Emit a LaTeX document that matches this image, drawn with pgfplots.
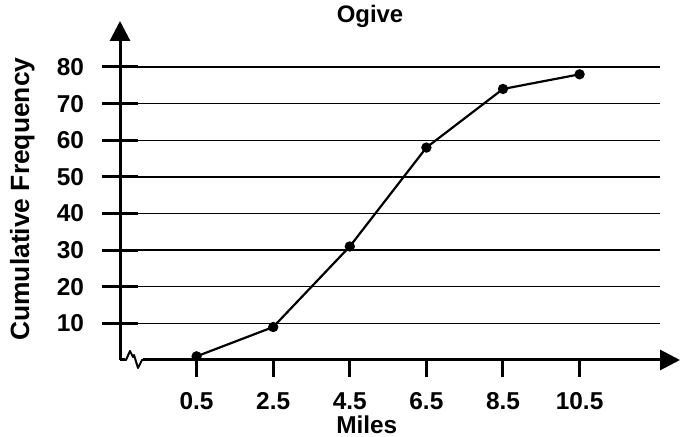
\documentclass[border=0pt]{standalone}
\usepackage{fontspec}
\setmainfont{Liberation Sans}
\usepackage{pgfplots}
\pgfplotsset{compat=1.18}
\usetikzlibrary{arrows.meta}
\begin{document}
\begin{tikzpicture}[x=1bp,y=1bp]
\path[use as bounding box] (0,0) rectangle (680,437);
\begin{axis}[
  at={(120bp,77bp)}, anchor=south west,
  scale only axis, width=540bp, height=293bp,
  xmin=-1.5, xmax=12.6, ymin=0, ymax=80,
  axis x line=bottom, axis y line=left,
  x axis line style={line width=3bp, shorten >=-20bp, -{Triangle[width=20bp,length=20bp]}},
  y axis line style={line width=3bp, shorten >=-46bp, -{Triangle[width=20bp,length=20bp]}},
  xtick={0.5,2.5,4.5,6.5,8.5,10.5},
  xticklabels={0.5,2.5,4.5,6.5,8.5,10.5},
  ytick={10,20,30,40,50,60,70,80},
  xtick align=outside, ytick align=center,
  major tick length=35bp,
  xtick style={line width=3bp, black, /pgfplots/major tick length=17bp},
  ytick style={line width=3bp, black},
  ymajorgrids, grid style={black, line width=1.3bp},
  /pgf/number format/assume math mode=true,
  ticklabel style={font=\fontsize{24.5}{26}\selectfont\bfseries},
  xticklabel style={yshift=6bp},
  every y tick label/.append style={black, xshift=-15bp},
  title={Ogive},
  title style={font=\fontsize{24}{26}\selectfont\bfseries, at={(axis description cs:0.463,1.154)}, anchor=center},
  xlabel={Miles},
  xlabel style={font=\fontsize{24.5}{26}\selectfont\bfseries, at={(axis description cs:0.457,-0.220)}, anchor=center},
  ylabel={Cumulative Frequency},
  ylabel style={font=\fontsize{26.5}{28}\selectfont\bfseries, at={(axis description cs:-0.181,0.549)}, anchor=center, rotate=0},
  clip=false,
]
\addplot[black, line width=2.2bp, mark=*, mark size=4bp] coordinates {
  (0.5,1) (2.5,9) (4.5,31) (6.5,58) (8.5,74) (10.5,78)
};
\coordinate (O) at (axis cs:-1.5,0);
\end{axis}
\fill[white] ([shift={(5bp,-2.5bp)}]O) rectangle ([shift={(23bp,2.5bp)}]O);
\draw[black, line width=2bp, line join=round] ([shift={(4bp,0bp)}]O) -- ([shift={(6bp,0bp)}]O) -- ([shift={(10bp,9bp)}]O) -- ([shift={(13bp,3bp)}]O) -- ([shift={(14bp,5bp)}]O) -- ([shift={(18bp,-8bp)}]O) -- ([shift={(22bp,0bp)}]O) -- ([shift={(24bp,0bp)}]O);
\end{tikzpicture}
\end{document}
